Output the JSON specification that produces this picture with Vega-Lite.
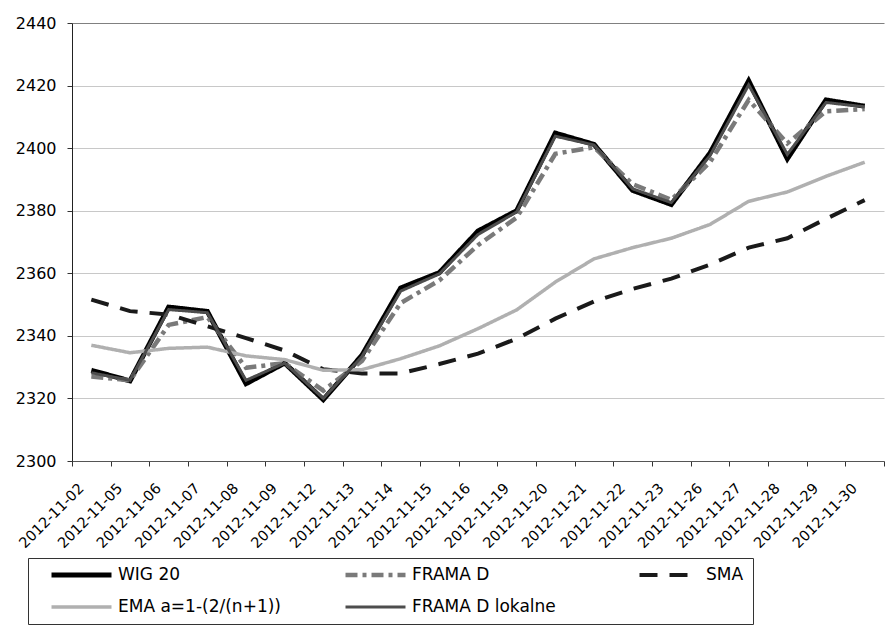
{
  "$schema": "https://vega.github.io/schema/vega-lite/v6.json",
  "width": 812,
  "height": 438,
  "padding": {"left": 15, "top": 15, "right": 0, "bottom": 0},
  "background": "white",
  "config": {"font": "DejaVu Sans", "view": {"stroke": null}},
  "data": {"values": [
    {"date": "2012-11-02", "series": "WIG 20", "value": 2329},
    {"date": "2012-11-05", "series": "WIG 20", "value": 2325.6},
    {"date": "2012-11-06", "series": "WIG 20", "value": 2349.2},
    {"date": "2012-11-07", "series": "WIG 20", "value": 2347.8},
    {"date": "2012-11-08", "series": "WIG 20", "value": 2324.7},
    {"date": "2012-11-09", "series": "WIG 20", "value": 2331.3},
    {"date": "2012-11-12", "series": "WIG 20", "value": 2319.6},
    {"date": "2012-11-13", "series": "WIG 20", "value": 2333.8},
    {"date": "2012-11-14", "series": "WIG 20", "value": 2355.3},
    {"date": "2012-11-15", "series": "WIG 20", "value": 2360.2},
    {"date": "2012-11-16", "series": "WIG 20", "value": 2373.5},
    {"date": "2012-11-19", "series": "WIG 20", "value": 2380},
    {"date": "2012-11-20", "series": "WIG 20", "value": 2404.8},
    {"date": "2012-11-21", "series": "WIG 20", "value": 2401.2},
    {"date": "2012-11-22", "series": "WIG 20", "value": 2386.5},
    {"date": "2012-11-23", "series": "WIG 20", "value": 2382},
    {"date": "2012-11-26", "series": "WIG 20", "value": 2398.4},
    {"date": "2012-11-27", "series": "WIG 20", "value": 2421.5},
    {"date": "2012-11-28", "series": "WIG 20", "value": 2396.6},
    {"date": "2012-11-29", "series": "WIG 20", "value": 2415.4},
    {"date": "2012-11-30", "series": "WIG 20", "value": 2413.4},

    {"date": "2012-11-02", "series": "FRAMA D", "value": 2327},
    {"date": "2012-11-05", "series": "FRAMA D", "value": 2325.8},
    {"date": "2012-11-06", "series": "FRAMA D", "value": 2343.5},
    {"date": "2012-11-07", "series": "FRAMA D", "value": 2346},
    {"date": "2012-11-08", "series": "FRAMA D", "value": 2329.8},
    {"date": "2012-11-09", "series": "FRAMA D", "value": 2331.3},
    {"date": "2012-11-12", "series": "FRAMA D", "value": 2322.5},
    {"date": "2012-11-13", "series": "FRAMA D", "value": 2332},
    {"date": "2012-11-14", "series": "FRAMA D", "value": 2350.5},
    {"date": "2012-11-15", "series": "FRAMA D", "value": 2357.7},
    {"date": "2012-11-16", "series": "FRAMA D", "value": 2369},
    {"date": "2012-11-19", "series": "FRAMA D", "value": 2377.8},
    {"date": "2012-11-20", "series": "FRAMA D", "value": 2398.2},
    {"date": "2012-11-21", "series": "FRAMA D", "value": 2400.3},
    {"date": "2012-11-22", "series": "FRAMA D", "value": 2388.5},
    {"date": "2012-11-23", "series": "FRAMA D", "value": 2383.5},
    {"date": "2012-11-26", "series": "FRAMA D", "value": 2395.5},
    {"date": "2012-11-27", "series": "FRAMA D", "value": 2415.4},
    {"date": "2012-11-28", "series": "FRAMA D", "value": 2401.5},
    {"date": "2012-11-29", "series": "FRAMA D", "value": 2411.8},
    {"date": "2012-11-30", "series": "FRAMA D", "value": 2412.5},

    {"date": "2012-11-02", "series": "SMA", "value": 2351.6},
    {"date": "2012-11-05", "series": "SMA", "value": 2347.9},
    {"date": "2012-11-06", "series": "SMA", "value": 2346.8},
    {"date": "2012-11-07", "series": "SMA", "value": 2343.1},
    {"date": "2012-11-08", "series": "SMA", "value": 2339.3},
    {"date": "2012-11-09", "series": "SMA", "value": 2335.3},
    {"date": "2012-11-12", "series": "SMA", "value": 2329.3},
    {"date": "2012-11-13", "series": "SMA", "value": 2328},
    {"date": "2012-11-14", "series": "SMA", "value": 2328},
    {"date": "2012-11-15", "series": "SMA", "value": 2331},
    {"date": "2012-11-16", "series": "SMA", "value": 2334.3},
    {"date": "2012-11-19", "series": "SMA", "value": 2339.1},
    {"date": "2012-11-20", "series": "SMA", "value": 2345.5},
    {"date": "2012-11-21", "series": "SMA", "value": 2351},
    {"date": "2012-11-22", "series": "SMA", "value": 2355},
    {"date": "2012-11-23", "series": "SMA", "value": 2358.3},
    {"date": "2012-11-26", "series": "SMA", "value": 2362.8},
    {"date": "2012-11-27", "series": "SMA", "value": 2368.2},
    {"date": "2012-11-28", "series": "SMA", "value": 2371.2},
    {"date": "2012-11-29", "series": "SMA", "value": 2377.4},
    {"date": "2012-11-30", "series": "SMA", "value": 2383.4},

    {"date": "2012-11-02", "series": "EMA a=1-(2/(n+1))", "value": 2337},
    {"date": "2012-11-05", "series": "EMA a=1-(2/(n+1))", "value": 2334.6},
    {"date": "2012-11-06", "series": "EMA a=1-(2/(n+1))", "value": 2336},
    {"date": "2012-11-07", "series": "EMA a=1-(2/(n+1))", "value": 2336.4},
    {"date": "2012-11-08", "series": "EMA a=1-(2/(n+1))", "value": 2333.6},
    {"date": "2012-11-09", "series": "EMA a=1-(2/(n+1))", "value": 2332.4},
    {"date": "2012-11-12", "series": "EMA a=1-(2/(n+1))", "value": 2329},
    {"date": "2012-11-13", "series": "EMA a=1-(2/(n+1))", "value": 2329.2},
    {"date": "2012-11-14", "series": "EMA a=1-(2/(n+1))", "value": 2332.7},
    {"date": "2012-11-15", "series": "EMA a=1-(2/(n+1))", "value": 2336.8},
    {"date": "2012-11-16", "series": "EMA a=1-(2/(n+1))", "value": 2342.3},
    {"date": "2012-11-19", "series": "EMA a=1-(2/(n+1))", "value": 2348.3},
    {"date": "2012-11-20", "series": "EMA a=1-(2/(n+1))", "value": 2357.2},
    {"date": "2012-11-21", "series": "EMA a=1-(2/(n+1))", "value": 2364.6},
    {"date": "2012-11-22", "series": "EMA a=1-(2/(n+1))", "value": 2368.2},
    {"date": "2012-11-23", "series": "EMA a=1-(2/(n+1))", "value": 2371.2},
    {"date": "2012-11-26", "series": "EMA a=1-(2/(n+1))", "value": 2375.6},
    {"date": "2012-11-27", "series": "EMA a=1-(2/(n+1))", "value": 2383},
    {"date": "2012-11-28", "series": "EMA a=1-(2/(n+1))", "value": 2386},
    {"date": "2012-11-29", "series": "EMA a=1-(2/(n+1))", "value": 2391},
    {"date": "2012-11-30", "series": "EMA a=1-(2/(n+1))", "value": 2395.5},

    {"date": "2012-11-02", "series": "FRAMA D lokalne", "value": 2328.2},
    {"date": "2012-11-05", "series": "FRAMA D lokalne", "value": 2325.8},
    {"date": "2012-11-06", "series": "FRAMA D lokalne", "value": 2348.4},
    {"date": "2012-11-07", "series": "FRAMA D lokalne", "value": 2347.4},
    {"date": "2012-11-08", "series": "FRAMA D lokalne", "value": 2325.8},
    {"date": "2012-11-09", "series": "FRAMA D lokalne", "value": 2331.3},
    {"date": "2012-11-12", "series": "FRAMA D lokalne", "value": 2320},
    {"date": "2012-11-13", "series": "FRAMA D lokalne", "value": 2333.4},
    {"date": "2012-11-14", "series": "FRAMA D lokalne", "value": 2354.3},
    {"date": "2012-11-15", "series": "FRAMA D lokalne", "value": 2359.8},
    {"date": "2012-11-16", "series": "FRAMA D lokalne", "value": 2372.4},
    {"date": "2012-11-19", "series": "FRAMA D lokalne", "value": 2379.6},
    {"date": "2012-11-20", "series": "FRAMA D lokalne", "value": 2403.8},
    {"date": "2012-11-21", "series": "FRAMA D lokalne", "value": 2401},
    {"date": "2012-11-22", "series": "FRAMA D lokalne", "value": 2387},
    {"date": "2012-11-23", "series": "FRAMA D lokalne", "value": 2382.6},
    {"date": "2012-11-26", "series": "FRAMA D lokalne", "value": 2397.6},
    {"date": "2012-11-27", "series": "FRAMA D lokalne", "value": 2420.2},
    {"date": "2012-11-28", "series": "FRAMA D lokalne", "value": 2398},
    {"date": "2012-11-29", "series": "FRAMA D lokalne", "value": 2414.6},
    {"date": "2012-11-30", "series": "FRAMA D lokalne", "value": 2413.2}
  ]},
  "mark": {"type": "line"},
  "encoding": {
    "x": {
      "field": "date", "type": "ordinal",
      "scale": {"type": "band", "paddingInner": 0, "paddingOuter": 0},
      "axis": {"title": null, "labelAngle": -45, "labelAlign": "right", "labelBaseline": "middle",
               "labelFontSize": 14.5, "labelColor": "black", "labelOffset": -10, "labelPadding": 20,
               "tickBand": "extent", "tickSize": 5, "tickColor": "#333", "domainColor": "#555",
               "grid": false}
    },
    "y": {
      "field": "value", "type": "quantitative",
      "scale": {"domain": [2300, 2440], "nice": false, "zero": false},
      "axis": {"title": null, "values": [2300, 2320, 2340, 2360, 2380, 2400, 2420, 2440], "format": "d",
               "labelFontSize": 16, "labelColor": "black", "tickSize": 5, "tickColor": "#333",
               "domainColor": "#222", "labelPadding": 11,
               "gridColor": {"condition": {"test": "datum.value == 2440", "value": "#808080"}, "value": "#c8c8c8"}}
    },
    "color": {
      "field": "series", "type": "nominal",
      "scale": {"domain": ["WIG 20", "FRAMA D", "SMA", "EMA a=1-(2/(n+1))", "FRAMA D lokalne"],
                "range": ["#000000", "#7a7a7a", "#1a1a1a", "#b0b0b0", "#4d4d4d"]},
      "legend": {"orient": "none", "legendX": -44, "legendY": 535, "direction": "horizontal", "columns": 3,
                 "title": " ", "titleOrient": "left", "titleFontSize": 30, "titlePadding": 12,
                 "symbolType": "stroke", "symbolSize": 3600, "clipHeight": 16, "rowPadding": 15,
                 "columnPadding": 62, "gridAlign": "all", "labelFontSize": 17, "labelColor": "black",
                 "labelOffset": 4, "labelLimit": 300, "padding": 9, "strokeColor": "#333", "fillColor": "white"}
    },
    "strokeDash": {
      "field": "series", "type": "nominal",
      "scale": {"domain": ["WIG 20", "FRAMA D", "SMA", "EMA a=1-(2/(n+1))", "FRAMA D lokalne"],
                "range": [[1, 0], [12, 5, 4, 5], [18, 12], [1, 0], [1, 0]]},
      "legend": {"orient": "none", "legendX": -44, "legendY": 535, "direction": "horizontal", "columns": 3,
                 "title": " ", "titleOrient": "left", "titleFontSize": 30, "titlePadding": 12,
                 "symbolType": "stroke", "symbolSize": 3600, "clipHeight": 16, "rowPadding": 15,
                 "columnPadding": 62, "gridAlign": "all", "labelFontSize": 17, "labelColor": "black",
                 "labelOffset": 4, "labelLimit": 300, "padding": 9, "strokeColor": "#333", "fillColor": "white"}
    },
    "strokeWidth": {
      "field": "series", "type": "nominal",
      "scale": {"domain": ["WIG 20", "FRAMA D", "SMA", "EMA a=1-(2/(n+1))", "FRAMA D lokalne"],
                "range": [5, 3, 3, 2.5, 2.5]},
      "legend": {"orient": "none", "legendX": -44, "legendY": 535, "direction": "horizontal", "columns": 3,
                 "title": " ", "titleOrient": "left", "titleFontSize": 30, "titlePadding": 12,
                 "symbolType": "stroke", "symbolSize": 3600, "clipHeight": 16, "rowPadding": 15,
                 "columnPadding": 62, "gridAlign": "all", "labelFontSize": 17, "labelColor": "black",
                 "labelOffset": 4, "labelLimit": 300, "padding": 9, "strokeColor": "#333", "fillColor": "white"}
    }
  }
}
